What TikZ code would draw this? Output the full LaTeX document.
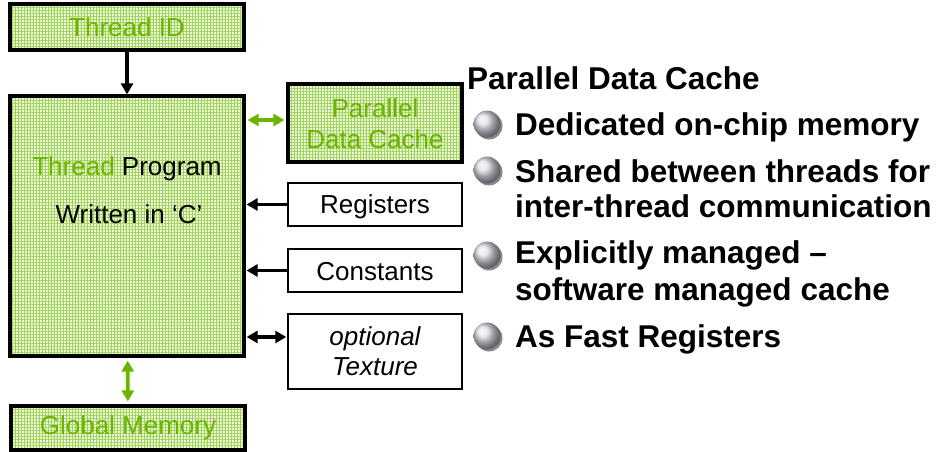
\documentclass[tikz,border=0pt]{standalone}
\usepackage{fontspec}
\setmainfont{Liberation Sans}
\usetikzlibrary{patterns.meta,arrows.meta,shadows}

\definecolor{nvgreen}{RGB}{108,180,0}
\definecolor{gridgreen}{RGB}{160,210,85}
\definecolor{palegreen}{RGB}{236,246,222}
\definecolor{ballgray}{RGB}{222,222,234}

\newcommand\diagfont{\fontsize{26pt}{31pt}\selectfont}
\newcommand\listfont{\fontsize{31.5pt}{36pt}\selectfont\bfseries}

\tikzset{
  greenbox/.style={draw=black, line width=3.2pt,
    preaction={fill=palegreen},
    preaction={pattern={Lines[distance=3pt,line width=1pt,angle=0]}, pattern color=gridgreen},
    preaction={pattern={Lines[distance=3pt,line width=1pt,angle=90]}, pattern color=gridgreen},
    inner sep=0pt, font=\diagfont, text=nvgreen, align=center},
  whitebox/.style={draw=black, line width=1.5pt, fill=white,
    inner sep=0pt, font=\diagfont, align=center},
  blackarrow/.style={line width=3.2pt, -{Triangle[length=11pt,width=12pt]}},
  blackdouble/.style={line width=3.2pt, {Triangle[length=11pt,width=12pt]}-{Triangle[length=11pt,width=12pt]}},
  greendouble/.style={draw=nvgreen, line width=3.8pt,
    {Triangle[length=11pt,width=12pt]}-{Triangle[length=11pt,width=12pt]}},
  ballet/.style={circle, minimum size=27pt, inner sep=0pt, shading=ball, ball color=ballgray,
    drop shadow={shadow xshift=2pt, shadow yshift=-2pt, fill=black!65, opacity=0.7}},
  listtext/.style={anchor=base west, inner sep=0pt, font=\listfont},
  boxtext/.style={anchor=base, inner sep=0pt, font=\diagfont}
}

\begin{document}
\begin{tikzpicture}[x=1pt,y=-1pt]
  \useasboundingbox (0,0) rectangle (942,452);

  % left column: thread, program, global memory
  \node[greenbox, minimum width=234pt, minimum height=46pt] (tid) at (127,27) {Thread ID};
  \node[greenbox, minimum width=234pt, minimum height=260pt] (prog) at (127,226) {};
  \node[greenbox, minimum width=234pt, minimum height=44pt] (gmem) at (128,428) {Global Memory};

  \node[boxtext] (progtitle) at (127,175) {\textcolor{nvgreen}{Thread} Program};
  \node[boxtext] (proglang) at (129,223) {Written in ‘C’};

  % memory spaces beside the program
  \node[greenbox, minimum width=174pt, minimum height=78pt] (pdc) at (375,123) {};
  \node[boxtext, text=nvgreen] (pdcA) at (375,117) {Parallel};
  \node[boxtext, text=nvgreen] (pdcB) at (375,148) {Data Cache};

  \node[whitebox, minimum width=174pt, minimum height=43pt] (reg) at (375,204.5) {};
  \node[boxtext] (regtxt) at (375,213) {Registers};

  \node[whitebox, minimum width=174pt, minimum height=43pt] (con) at (375,270.5) {};
  \node[boxtext] (contxt) at (375,280) {Constants};

  \node[whitebox, minimum width=174pt, minimum height=75pt] (tex) at (375,351.5) {};
  \node[boxtext] (texA) at (375,345) {\itshape optional};
  \node[boxtext] (texB) at (375,375) {\itshape Texture};

  % connectors
  \draw[blackarrow] (tid) -- (prog);
  \draw[greendouble, shorten <=3pt, shorten >=3pt] (prog) -- (gmem);
  \coordinate (pdcport) at ([yshift=3pt]pdc.west);
  \draw[greendouble, shorten <=2pt, shorten >=2pt] (prog.east |- pdcport) -- (pdcport);
  \draw[blackarrow, shorten >=1pt] (reg.west) -- (prog.east |- reg.west);
  \draw[blackarrow, shorten >=1pt] (con.west) -- (prog.east |- con.west);
  \coordinate (texport) at ([yshift=14.5pt]tex.west);
  \draw[blackdouble, shorten <=1pt, shorten >=1pt] (prog.east |- texport) -- (texport);

  % bullet list
  \node[listtext] (ltitle) at (467,89) {Parallel Data Cache};

  \node[ballet] (b1) at (487,124) {};
  \node[listtext] (l1) at (515,135) {Dedicated on-chip memory};

  \node[ballet] (b2) at (487,170) {};
  \node[listtext] (l2) at (515,182) {Shared between threads for};
  \node[listtext] (l2b) at (515,217) {inter-thread communication};

  \node[ballet] (b3) at (487,255) {};
  \node[listtext] (l3) at (515,263) {Explicitly managed –};
  \node[listtext] (l3b) at (515,300) {software managed cache};

  \node[ballet] (b4) at (487,336) {};
  \node[listtext] (l4) at (515,347) {As Fast Registers};
\end{tikzpicture}
\end{document}
